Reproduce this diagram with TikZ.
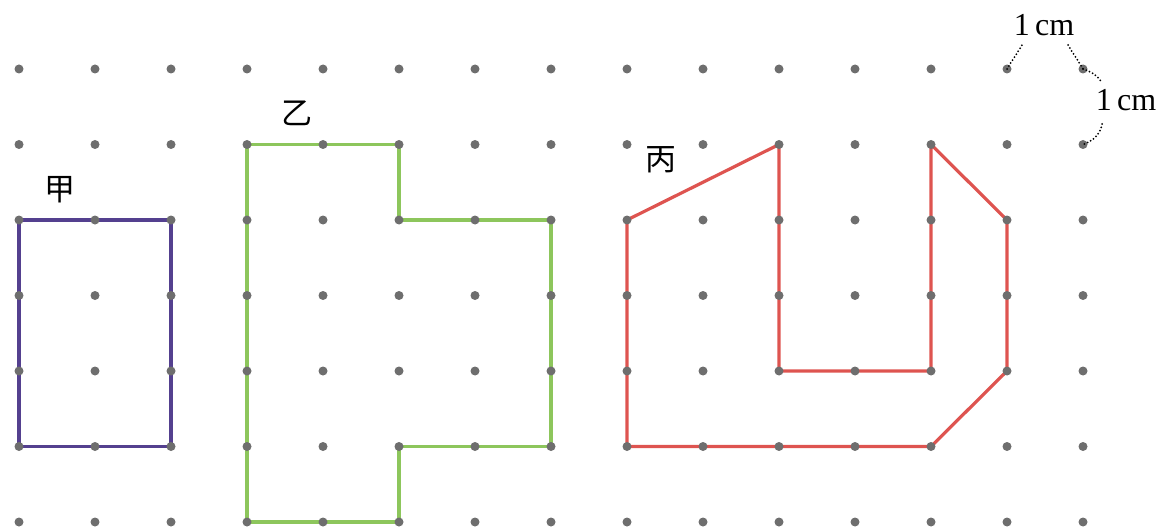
\documentclass[tikz,border=0pt]{standalone}
\usepackage{fontspec}
\setmainfont{Liberation Serif}
\newfontfamily\cjk{Noto Sans CJK SC}
\definecolor{dotgray}{HTML}{6E6E6E}
\definecolor{jiacol}{HTML}{54408F}
\definecolor{yicol}{HTML}{8DC65C}
\definecolor{bingcol}{HTML}{DE5450}
\begin{document}
\begin{tikzpicture}[x=1pt,y=-1pt,
  shapeline/.style={line width=3.2pt,line join=round,line cap=round},
  dotmark/.style={fill=dotgray},
  unitlabel/.style={inner sep=0pt,font=\fontsize{32}{32}\selectfont},
  namelabel/.style={inner sep=0pt,font=\cjk\fontsize{31}{31}\selectfont},
  dotarc/.style={line width=2pt,line cap=round,dash pattern=on 0pt off 3.5pt}]
\useasboundingbox (0,0) rectangle (1173,532);
\foreach \i in {0,...,14}{
  \foreach \j in {0,...,6}{
    \coordinate (p-\i-\j) at ({19+76*\i},{69+75.5*\j});
  }
}
% shapes
\draw[shapeline,jiacol] (p-0-2) -- (p-2-2) -- (p-2-5) -- (p-0-5) -- cycle;
\draw[shapeline,yicol] (p-3-1) -- (p-5-1) -- (p-5-2) -- (p-7-2) -- (p-7-5) -- (p-5-5) -- (p-5-6) -- (p-3-6) -- cycle;
\draw[shapeline,bingcol] (p-8-2) -- (p-10-1) -- (p-10-4) -- (p-12-4) -- (p-12-1) -- (p-13-2) -- (p-13-4) -- (p-12-5) -- (p-8-5) -- cycle;
% dots
\foreach \i in {0,...,14}{
  \foreach \j in {0,...,6}{
    \fill[dotmark] (p-\i-\j) circle (4.5pt);
  }
}
% labels
\node[namelabel] (jia) at (60,190) {甲};
\node[namelabel] (yi) at (297,113) {乙};
\node[namelabel] (bing) at (661,160) {丙};
\node[unitlabel] (hlab) at (1044,25) {1\,cm};
\node[unitlabel] (vlab) at (1126,100) {1\,cm};
\coordinate (ha) at (1022,45);
\coordinate (hb) at (1068,45);
\coordinate (va) at (1102,83);
\coordinate (vb) at (1102,124);
\draw[dotarc] (p-13-0) to[out=60,in=-120] (ha);
\draw[dotarc] (hb) to[out=-60,in=120] (p-14-0);
\draw[dotarc] (p-14-0) to[out=-20,in=120] (va);
\draw[dotarc] (vb) to[out=-100,in=20] (p-14-1);
\end{tikzpicture}
\end{document}
